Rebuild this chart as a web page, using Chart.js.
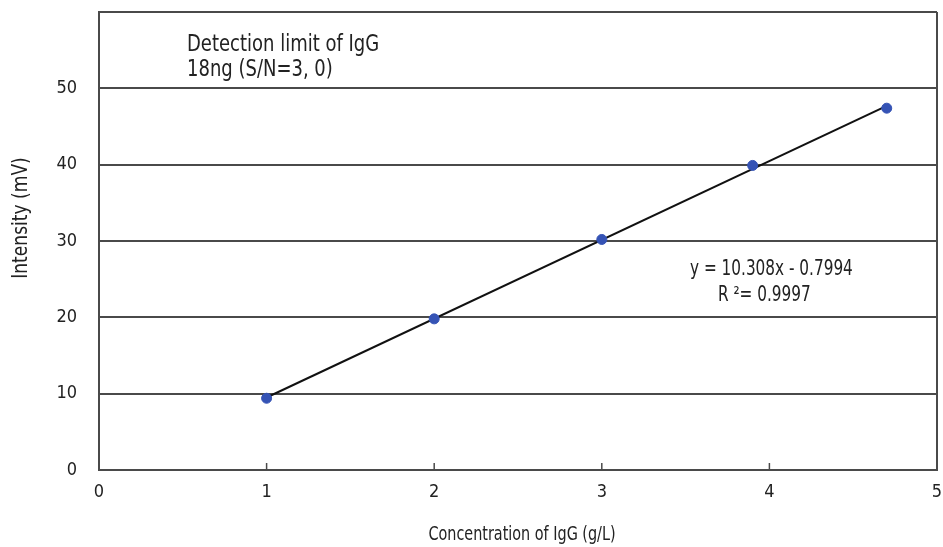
<!DOCTYPE html>
<html><head><meta charset="utf-8">
<script src="https://cdn.jsdelivr.net/npm/chart.js@4"></script>
<style>html,body{margin:0;padding:0;background:#fff}#wrap{width:943px;height:547px}</style>
</head><body><div id="wrap"><canvas id="c" width="943" height="547"></canvas></div>
<script>
const concentration = [1, 2, 3, 3.9, 4.7];
const intensity = [9.4, 19.8, 30.2, 39.9, 47.4];
const fitX = [1, 4.7];
const fitY = [9.5, 47.7];
const xTicks = [0, 1, 2, 3, 4, 5];
const yTicks = [0, 10, 20, 30, 40, 50, 60];
const noteLines = ['Detection limit of IgG', '18ng (S/N=3, 0)'];
const eqLines = ['y = 10.308x - 0.7994', 'R \u00B2= 0.9997'];
const xTitle = 'Concentration of IgG (g/L)';
const yTitle = 'Intensity (mV)';
const FONT = '"Liberation Sans Narrow", "DejaVu Sans Condensed", "Liberation Sans", sans-serif';
const GRID = '#4a4a4a';
const TEXT = '#222';

function tallText(ctx, txt, x, y, size, align, stretch) {
  ctx.save();
  ctx.translate(x, y);
  ctx.scale(1, stretch);
  ctx.font = size + 'px ' + FONT;
  ctx.textAlign = align;
  ctx.textBaseline = 'middle';
  ctx.fillStyle = TEXT;
  ctx.fillText(txt, 0, 0);
  ctx.restore();
}

const overlay = {
  id: 'overlay',
  afterDraw(chart) {
    const {ctx, scales: {x, y}} = chart;
    ctx.save();
    ctx.strokeStyle = GRID; ctx.lineWidth = 1.5;
    xTicks.slice(1, -1).forEach(v => {
      const px = x.getPixelForValue(v);
      ctx.beginPath(); ctx.moveTo(px, y.bottom); ctx.lineTo(px, y.bottom - 7); ctx.stroke();
    });
    ctx.restore();
    tallText(ctx, noteLines[0], 187, 45, 20, 'left', 1.12);
    tallText(ctx, noteLines[1], 187, 70, 20, 'left', 1.12);
    tallText(ctx, eqLines[0], 690, 270, 17, 'left', 1.2);
    tallText(ctx, eqLines[1], 718, 296, 17, 'left', 1.2);
    tallText(ctx, xTitle, 522, 535, 16, 'center', 1.2);
    ctx.save();
    ctx.translate(22, 218);
    ctx.rotate(-Math.PI / 2);
    tallText(ctx, yTitle, 0, 0, 19, 'center', 1.1);
    ctx.restore();
  }
};

new Chart(document.getElementById('c'), {
  type: 'scatter',
  data: {
    datasets: [
      {
        type: 'line',
        data: fitX.map((v, i) => ({x: v, y: fitY[i]})),
        borderColor: '#111', borderWidth: 2, pointRadius: 0, fill: false, order: 2
      },
      {
        data: concentration.map((v, i) => ({x: v, y: intensity[i]})),
        backgroundColor: '#3553b5', borderColor: '#3553b5', pointRadius: 5, order: 1
      }
    ]
  },
  options: {
    responsive: false, animation: false,
    layout: {padding: {left: 0, right: -3, top: 12, bottom: 0}},
    plugins: {legend: {display: false}, tooltip: {enabled: false}},
    scales: {
      x: {
        type: 'linear', min: 0, max: 5,
        afterBuildTicks: s => { s.ticks = xTicks.map(v => ({value: v})); },
        afterFit: s => { s.height = 77; s.paddingLeft = 0; s.paddingRight = 0; },
        grid: {
          color: c => (c.tick && (c.tick.value === 0 || c.tick.value === 5)) ? GRID : 'rgba(0,0,0,0)',
          lineWidth: 2, drawTicks: false
        },
        border: {display: true, color: GRID, width: 2},
        ticks: {color: TEXT, font: {family: FONT, size: 18}, padding: 12, maxRotation: 0},
        title: {display: false}
      },
      y: {
        type: 'linear', min: 0, max: 60,
        afterBuildTicks: s => { s.ticks = yTicks.map(v => ({value: v})); },
        afterFit: s => { s.width = 99; s.paddingTop = 0; s.paddingBottom = 0; },
        grid: {color: GRID, lineWidth: 2, drawTicks: false},
        border: {display: true, color: GRID, width: 2},
        ticks: {color: TEXT, font: {family: FONT, size: 18}, padding: 22,
          callback: v => v === 60 ? '' : String(v)},
        title: {display: false}
      }
    }
  },
  plugins: [overlay]
});
</script>
</body></html>
